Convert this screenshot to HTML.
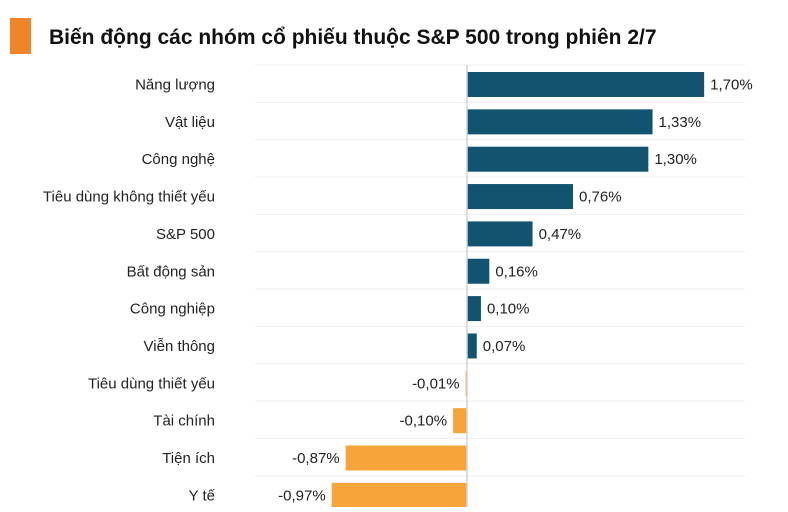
<!DOCTYPE html>
<html><head><meta charset="utf-8">
<style>
body{margin:0;background:#fff;width:788px;height:507px;overflow:hidden;font-family:"Liberation Sans",sans-serif;}
</style></head>
<body>
<svg width="788" height="507" xmlns="http://www.w3.org/2000/svg">
<rect x="10" y="18" width="21" height="36" fill="#f0842a"/>
<text x="49" y="44" font-size="21" font-weight="bold" fill="#111">Biến động các nhóm cổ phiếu thuộc S&amp;P 500 trong phiên 2/7</text>
<g id="plot"></g>
</svg>
<script>
const categories=["Năng lượng","Vật liệu","Công nghệ","Tiêu dùng không thiết yếu","S&P 500","Bất động sản","Công nghiệp","Viễn thông","Tiêu dùng thiết yếu","Tài chính","Tiện ích","Y tế"];
const values=[1.70,1.33,1.30,0.76,0.47,0.16,0.10,0.07,-0.01,-0.10,-0.87,-0.97];
const valueLabels=["1,70%","1,33%","1,30%","0,76%","0,47%","0,16%","0,10%","0,07%","-0,01%","-0,10%","-0,87%","-0,97%"];
const NS="http://www.w3.org/2000/svg";
const g=document.getElementById('plot');
const x0=467, k=139.5, top0=65, pitch=37.35;
const xs=v=>x0+v*k;
const yRow=i=>top0+i*pitch;
function mk(t,a){const e=document.createElementNS(NS,t);for(const n in a)e.setAttribute(n,a[n]);g.appendChild(e);return e;}
for(let i=0;i<categories.length;i++){
  const gl=mk('line',{x1:255,x2:745,y1:yRow(i),y2:yRow(i),stroke:'#eeeeee','stroke-width':1});
  
  
}
categories.forEach((c,i)=>{
  const v=values[i];
  const y=yRow(i)+7, h=25;
  const xa=Math.min(xs(0),xs(v)), w=Math.max(Math.abs(xs(v)-xs(0)),1);
  const r=mk('rect',{x:xa,y:y,width:w,height:h,fill:v>=0?'#12546f':'#f7a43a'});
  
  
  const lb=mk('text',{x:215,y:y+h/2+5,'font-size':15,'text-anchor':'end',fill:'#222'});
  lb.textContent=c;
  
  
  const vl=mk('text',{x:v>=0?xs(v)+6:xs(v)-6,y:y+h/2+5,'font-size':15,'text-anchor':v>=0?'start':'end',fill:'#222'});
  vl.textContent=valueLabels[i];
  
  
});
const zl=mk('line',{x1:x0,x2:x0,y1:top0,y2:507,stroke:'#cfd3da','stroke-width':1.5});


</script>
</body></html>
